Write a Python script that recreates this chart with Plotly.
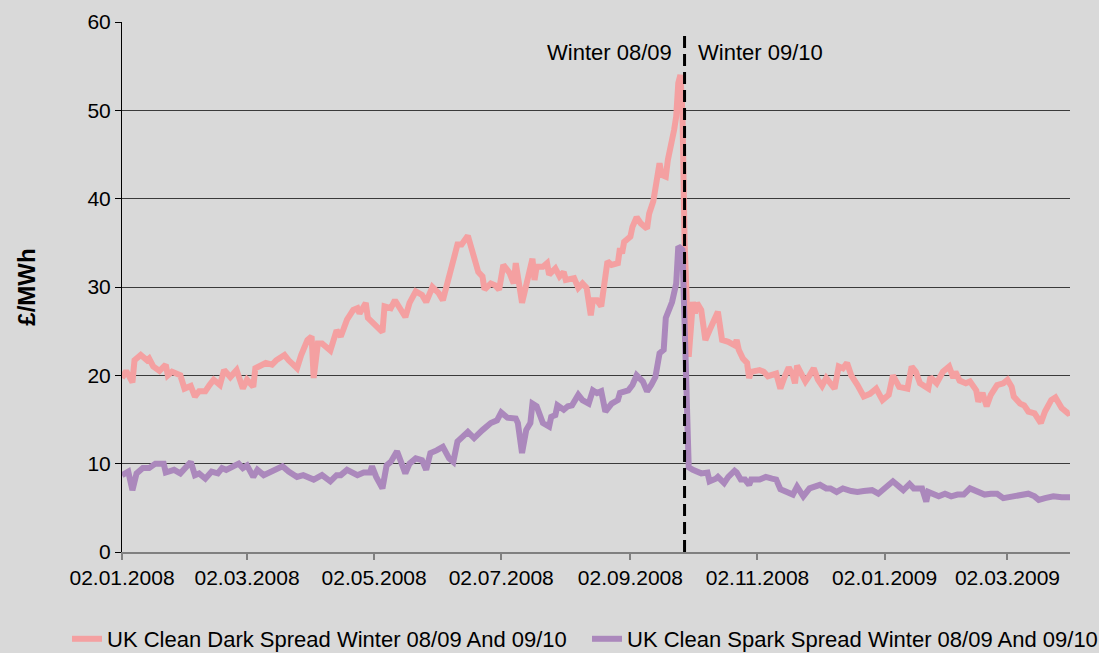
import plotly.graph_objects as go

# ---------------- data ----------------
dark_dates = [
    "2008-01-02", "2008-01-04", "2008-01-07", "2008-01-08", "2008-01-11", "2008-01-14", "2008-01-15",
    "2008-01-17", "2008-01-20", "2008-01-23", "2008-01-24", "2008-01-26", "2008-01-30", "2008-02-01",
    "2008-02-04", "2008-02-06", "2008-02-08", "2008-02-11", "2008-02-13", "2008-02-15", "2008-02-18",
    "2008-02-20", "2008-02-23", "2008-02-26", "2008-02-29", "2008-03-02", "2008-03-05", "2008-03-06",
    "2008-03-11", "2008-03-14", "2008-03-16", "2008-03-20", "2008-03-22", "2008-03-26", "2008-03-28",
    "2008-03-31", "2008-04-02", "2008-04-03", "2008-04-05", "2008-04-07", "2008-04-11", "2008-04-14",
    "2008-04-16", "2008-04-19", "2008-04-22", "2008-04-24", "2008-04-25", "2008-04-28", "2008-04-29",
    "2008-05-02", "2008-05-06", "2008-05-07", "2008-05-10", "2008-05-12", "2008-05-14", "2008-05-17",
    "2008-05-19", "2008-05-22", "2008-05-25", "2008-05-27", "2008-05-30", "2008-06-02", "2008-06-04",
    "2008-06-06", "2008-06-09", "2008-06-11", "2008-06-13", "2008-06-16", "2008-06-21", "2008-06-23",
    "2008-06-24", "2008-06-27", "2008-06-29", "2008-07-01", "2008-07-03", "2008-07-06", "2008-07-08",
    "2008-07-09", "2008-07-12", "2008-07-14", "2008-07-17", "2008-07-18", "2008-07-19", "2008-07-22",
    "2008-07-24", "2008-07-25", "2008-07-28", "2008-07-30", "2008-08-01", "2008-08-02", "2008-08-06",
    "2008-08-08", "2008-08-10", "2008-08-12", "2008-08-13", "2008-08-14", "2008-08-15", "2008-08-17",
    "2008-08-19", "2008-08-20", "2008-08-22", "2008-08-24", "2008-08-27", "2008-08-28", "2008-08-29",
    "2008-08-30", "2008-09-02", "2008-09-03", "2008-09-05", "2008-09-07", "2008-09-10", "2008-09-11",
    "2008-09-13", "2008-09-16", "2008-09-17", "2008-09-19", "2008-09-20", "2008-09-23", "2008-09-24",
    "2008-09-25", "2008-09-26", "2008-09-27", "2008-09-28", "2008-09-30", "2008-10-02", "2008-10-03",
    "2008-10-04", "2008-10-06", "2008-10-08", "2008-10-10", "2008-10-14", "2008-10-16", "2008-10-19",
    "2008-10-22", "2008-10-23", "2008-10-24", "2008-10-26", "2008-10-28", "2008-10-29", "2008-10-30",
    "2008-11-03", "2008-11-05", "2008-11-07", "2008-11-11", "2008-11-13", "2008-11-15", "2008-11-17",
    "2008-11-19", "2008-11-20", "2008-11-21", "2008-11-23", "2008-11-25", "2008-11-27", "2008-11-29",
    "2008-12-01", "2008-12-03", "2008-12-05", "2008-12-09", "2008-12-11", "2008-12-13", "2008-12-15",
    "2008-12-17", "2008-12-20", "2008-12-23", "2008-12-26", "2008-12-29", "2009-01-01", "2009-01-04",
    "2009-01-06", "2009-01-09", "2009-01-13", "2009-01-15", "2009-01-17", "2009-01-19", "2009-01-23",
    "2009-01-24", "2009-01-27", "2009-01-30", "2009-02-02", "2009-02-04", "2009-02-05", "2009-02-07",
    "2009-02-10", "2009-02-12", "2009-02-15", "2009-02-16", "2009-02-18", "2009-02-20", "2009-02-22",
    "2009-02-25", "2009-02-28", "2009-03-02", "2009-03-04", "2009-03-05", "2009-03-08", "2009-03-10",
    "2009-03-12", "2009-03-15", "2009-03-18", "2009-03-20", "2009-03-23", "2009-03-25", "2009-03-28",
    "2009-03-31", "2009-04-01",
]
dark_values = [
    19.7, 20.5, 19.2, 21.7, 22.3, 21.7, 21.9,
    21.0, 20.5, 21.2, 20.0, 20.4, 20.0, 18.5,
    18.8, 17.6, 18.2, 18.2, 18.9, 19.5, 18.9,
    20.6, 19.8, 20.6, 18.5, 19.5, 18.7, 20.8,
    21.4, 21.2, 21.7, 22.3, 21.7, 20.8, 22.3,
    24.0, 24.4, 19.7, 23.6, 23.6, 22.8, 25.1,
    24.4, 26.3, 27.4, 27.6, 27.0, 28.2, 26.5,
    25.9, 24.9, 27.8, 27.6, 28.5, 27.8, 26.6,
    28.2, 29.5, 29.1, 28.3, 30.0, 29.3, 28.5,
    30.2, 32.5, 34.8, 34.8, 35.8, 31.7, 31.2,
    29.7, 30.4, 30.2, 29.7, 32.5, 31.6, 30.4,
    32.7, 28.2, 30.4, 33.2, 30.8, 32.3, 32.3,
    32.7, 31.4, 32.1, 31.2, 31.7, 30.8, 31.0,
    29.9, 30.4, 29.9, 28.5, 26.8, 28.5, 28.5,
    27.8, 29.3, 32.9, 32.5, 32.7, 34.4, 33.8,
    35.1, 35.7, 36.8, 37.9, 37.2, 36.6, 38.3,
    39.7, 44.0, 42.7, 42.5, 44.4, 47.8, 49.3,
    53.1, 54.0, 49.7, 35.3, 22.1, 28.3, 27.0,
    28.2, 27.4, 24.0, 25.1, 27.2, 24.0, 23.8,
    23.4, 24.0, 22.9, 21.9, 21.4, 19.7, 20.4,
    20.6, 20.4, 19.9, 20.2, 18.5, 19.8, 20.9,
    20.0, 19.1, 21.1, 20.0, 19.3, 20.0, 20.8,
    19.5, 18.8, 19.7, 18.5, 21.0, 20.8, 21.4,
    20.0, 18.9, 17.6, 17.9, 18.5, 17.2, 17.8,
    20.0, 18.7, 18.5, 21.0, 20.4, 19.1, 18.5,
    19.8, 19.1, 20.4, 21.0, 19.7, 20.4, 19.4,
    19.1, 19.3, 18.3, 17.0, 18.0, 16.5, 17.8,
    18.9, 19.1, 19.5, 18.7, 17.6, 16.8, 16.6,
    15.9, 15.7, 14.6, 15.9, 17.2, 17.5, 16.3,
    15.7, 15.8,
]

spark_dates = [
    "2008-01-02", "2008-01-05", "2008-01-07", "2008-01-09", "2008-01-12", "2008-01-15", "2008-01-18",
    "2008-01-22", "2008-01-23", "2008-01-26", "2008-01-27", "2008-01-30", "2008-02-02", "2008-02-04",
    "2008-02-06", "2008-02-08", "2008-02-11", "2008-02-14", "2008-02-17", "2008-02-19", "2008-02-21",
    "2008-02-24", "2008-02-27", "2008-02-29", "2008-03-02", "2008-03-05", "2008-03-07", "2008-03-10",
    "2008-03-14", "2008-03-19", "2008-03-22", "2008-03-26", "2008-03-29", "2008-03-31", "2008-04-03",
    "2008-04-07", "2008-04-11", "2008-04-14", "2008-04-16", "2008-04-19", "2008-04-22", "2008-04-24",
    "2008-04-27", "2008-04-30", "2008-05-01", "2008-05-03", "2008-05-06", "2008-05-08", "2008-05-10",
    "2008-05-13", "2008-05-17", "2008-05-19", "2008-05-22", "2008-05-25", "2008-05-27", "2008-05-29",
    "2008-06-01", "2008-06-04", "2008-06-07", "2008-06-09", "2008-06-11", "2008-06-13", "2008-06-16",
    "2008-06-19", "2008-06-21", "2008-06-23", "2008-06-27", "2008-06-30", "2008-07-02", "2008-07-05",
    "2008-07-09", "2008-07-10", "2008-07-12", "2008-07-14", "2008-07-16", "2008-07-17", "2008-07-19",
    "2008-07-22", "2008-07-25", "2008-07-26", "2008-07-28", "2008-07-29", "2008-08-01", "2008-08-03",
    "2008-08-05", "2008-08-08", "2008-08-10", "2008-08-13", "2008-08-15", "2008-08-17", "2008-08-19",
    "2008-08-21", "2008-08-24", "2008-08-27", "2008-08-28", "2008-09-01", "2008-09-03", "2008-09-05",
    "2008-09-08", "2008-09-10", "2008-09-12", "2008-09-14", "2008-09-16", "2008-09-18", "2008-09-19",
    "2008-09-22", "2008-09-24", "2008-09-25", "2008-09-27", "2008-09-28", "2008-09-30", "2008-10-02",
    "2008-10-06", "2008-10-09", "2008-10-10", "2008-10-13", "2008-10-14", "2008-10-17", "2008-10-19",
    "2008-10-22", "2008-10-23", "2008-10-25", "2008-10-27", "2008-10-29", "2008-10-30", "2008-11-03",
    "2008-11-06", "2008-11-09", "2008-11-11", "2008-11-13", "2008-11-16", "2008-11-19", "2008-11-21",
    "2008-11-24", "2008-11-27", "2008-11-29", "2008-12-02", "2008-12-05", "2008-12-07", "2008-12-10",
    "2008-12-13", "2008-12-17", "2008-12-20", "2008-12-23", "2008-12-27", "2008-12-30", "2009-01-03",
    "2009-01-06", "2009-01-09", "2009-01-11", "2009-01-14", "2009-01-16", "2009-01-20", "2009-01-22",
    "2009-01-23", "2009-01-26", "2009-01-28", "2009-01-31", "2009-02-03", "2009-02-06", "2009-02-09",
    "2009-02-12", "2009-02-16", "2009-02-19", "2009-02-22", "2009-02-25", "2009-02-28", "2009-03-04",
    "2009-03-07", "2009-03-12", "2009-03-15", "2009-03-17", "2009-03-20", "2009-03-24", "2009-03-28",
    "2009-04-01",
]
spark_values = [
    8.7, 9.1, 7.0, 8.9, 9.5, 9.5, 10.0,
    10.0, 9.0, 9.3, 9.3, 8.9, 9.7, 10.2,
    8.7, 8.9, 8.3, 9.1, 8.9, 9.5, 9.3,
    9.7, 10.0, 9.5, 9.8, 8.5, 9.3, 8.7,
    9.1, 9.7, 9.1, 8.5, 8.7, 8.5, 8.2,
    8.7, 8.0, 8.7, 8.7, 9.3, 8.9, 8.7,
    9.0, 9.0, 9.7, 8.5, 7.2, 9.8, 10.2,
    11.4, 8.9, 10.0, 10.6, 10.4, 9.3, 11.2,
    11.5, 11.9, 10.6, 10.2, 12.5, 12.9, 13.6,
    12.9, 13.4, 13.8, 14.6, 14.9, 15.8, 15.2,
    15.1, 14.6, 11.2, 13.8, 14.6, 16.8, 16.5,
    14.6, 14.2, 15.3, 15.5, 16.6, 16.1, 16.5,
    16.6, 17.8, 17.2, 16.8, 18.3, 18.0, 18.2,
    15.9, 16.8, 17.2, 18.0, 18.3, 18.9, 20.0,
    19.3, 18.2, 18.9, 19.8, 22.5, 22.9, 26.5,
    28.3, 30.4, 34.6, 34.2, 25.5, 9.6, 9.3,
    8.9, 9.0, 8.0, 8.3, 8.5, 7.8, 8.5,
    9.2, 9.0, 8.2, 8.2, 7.6, 8.2, 8.2,
    8.5, 8.3, 8.2, 7.1, 6.8, 6.5, 7.4,
    6.3, 7.2, 7.4, 7.6, 7.2, 7.2, 6.8,
    7.2, 6.9, 6.8, 6.9, 7.0, 6.6, 7.4,
    8.0, 7.4, 7.0, 7.7, 7.2, 7.2, 5.7,
    6.8, 6.6, 6.3, 6.6, 6.3, 6.5, 6.5,
    7.2, 6.8, 6.5, 6.6, 6.6, 6.1, 6.3,
    6.5, 6.6, 6.3, 5.9, 6.1, 6.3, 6.2,
    6.2,
]

series_names = [
    "UK Clean Dark Spread Winter 08/09 And 09/10",
    "UK Clean Spark Spread Winter 08/09 And 09/10",
]
tick_dates = ["2008-01-02", "2008-03-02", "2008-05-02", "2008-07-02",
              "2008-09-02", "2008-11-02", "2009-01-02", "2009-03-02"]
tick_labels = ["02.01.2008", "02.03.2008", "02.05.2008", "02.07.2008",
               "02.09.2008", "02.11.2008", "02.01.2009", "02.03.2009"]
x_range = ["2008-01-02", "2009-04-01"]
winter_split = "2008-09-28"
winter_labels = ["Winter 08/09", "Winter 09/10"]
y_title = "£/MWh"

# ---------------- styling ----------------
FONT = "Liberation Sans, Arial, sans-serif"
BG = "#d9d9d9"
PINK = "#f4a0a1"
PURPLE = "#ab88bc"

fig = go.Figure()
fig.add_trace(go.Scatter(x=dark_dates, y=dark_values, mode="lines", name=series_names[0],
                         line=dict(color=PINK, width=6)))
fig.add_trace(go.Scatter(x=spark_dates, y=spark_values, mode="lines", name=series_names[1],
                         line=dict(color=PURPLE, width=6)))

fig.add_shape(type="line", xref="x", yref="y", x0=winter_split, x1=winter_split,
              y0=0, y1=58.8, line=dict(color="black", width=3, dash="12px,6px"))
fig.add_annotation(x=winter_split, y=56.6, xref="x", yref="y", text=winter_labels[0],
                   showarrow=False, xanchor="right", yanchor="middle", xshift=-11,
                   font=dict(family=FONT, size=22, color="black"))
fig.add_annotation(x=winter_split, y=56.6, xref="x", yref="y", text=winter_labels[1],
                   showarrow=False, xanchor="left", yanchor="middle", xshift=11,
                   font=dict(family=FONT, size=22, color="black"))

fig.update_layout(
    width=1099, height=653,
    paper_bgcolor=BG, plot_bgcolor=BG,
    margin=dict(l=122, r=29, t=22, b=101, autoexpand=False),
    font=dict(family=FONT, size=21, color="black"),
    showlegend=True,
    legend=dict(orientation="h", xref="paper", yref="paper",
                x=-0.058, xanchor="left", y=-0.1245, yanchor="top",
                font=dict(family=FONT, size=22, color="black"),
                bgcolor="rgba(0,0,0,0)", tracegroupgap=0,
                entrywidth=475, entrywidthmode="pixels"),
)
fig.update_xaxes(
    type="date", range=x_range, tickmode="array", tickvals=tick_dates, ticktext=tick_labels,
    showgrid=False, zeroline=False, showline=True, linecolor="#808080", linewidth=1.5,
    ticks="outside", ticklen=6, tickcolor="#808080", tickwidth=1.5,
    tickfont=dict(family=FONT, size=21, color="black"),
)
fig.update_yaxes(
    range=[0, 60], tick0=0, dtick=10, showgrid=True, gridcolor="#3a3a3a", gridwidth=1,
    zeroline=False, showline=True, linecolor="black", linewidth=1,
    ticks="outside", ticklen=6, tickcolor="black",
    tickfont=dict(family=FONT, size=21, color="black"),
    title=dict(text="<b>" + y_title + "</b>", font=dict(family=FONT, size=24, color="black"),
               standoff=45),
)

fig.write_html("out.html", config={"displayModeBar": False},
               post_script="document.body.style.margin='0px';")
